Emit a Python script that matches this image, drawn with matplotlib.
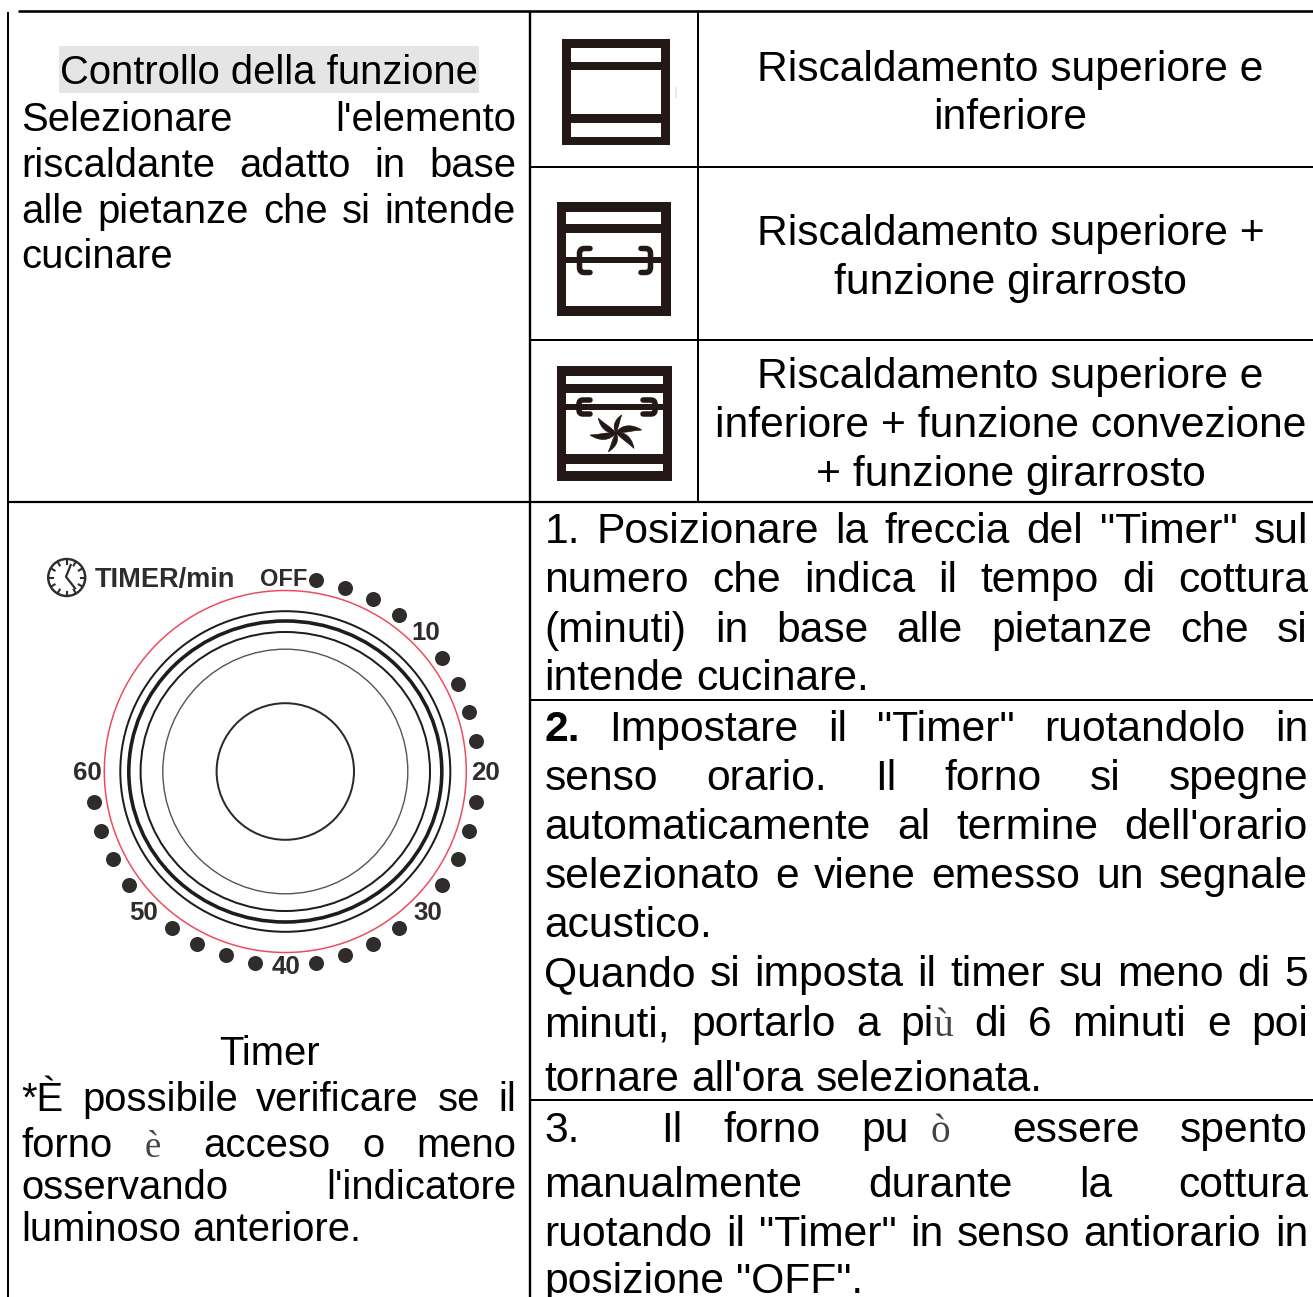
import numpy as np
import matplotlib
matplotlib.use("Agg")
import matplotlib.pyplot as plt
from matplotlib.font_manager import FontProperties
from matplotlib.patches import Rectangle, Ellipse, Circle, PathPatch
from matplotlib.path import Path

W, H = 1313, 1297
SANS = "Liberation Sans"
SERIF = "Liberation Serif"
LEFT_PT = 28.8
RIGHT_PT = 30.7
INK = "#000000"
ICON = "#231815"
DIAL = "#2f2c2b"

heading = "Controllo della funzione"
select_lines = ["Selezionare l'elemento", "riscaldante adatto in base",
                "alle pietanze che si intende", "cucinare"]
select_base = [131, 177, 223, 268]
timer_title = "Timer"
note_lines = ["*È possibile verificare se il",
              "forno è~ acceso o meno",
              "osservando l'indicatore",
              "luminoso anteriore."]
note_base = [1111, 1157, 1199, 1241]
note_just = [True, True, True, False]

mode_lines = [["Riscaldamento superiore e", "inferiore"],
              ["Riscaldamento superiore +", "funzione girarrosto"],
              ["Riscaldamento superiore e", "inferiore + funzione convezione",
               "+ funzione girarrosto"]]
mode_base = [[81, 129], [245, 294], [388, 437, 486]]

steps = [
    ("1. Posizionare la freccia del \"Timer\" sul", 543, True),
    ("numero che indica il tempo di cottura", 592, True),
    ("(minuti) in base alle pietanze che si", 642, True),
    ("intende cucinare.", 690, False),
    ("2. Impostare il \"Timer\" ruotandolo in", 741, True),
    ("senso orario. Il forno si spegne", 790, True),
    ("automaticamente al termine dell'orario", 839, True),
    ("selezionato e viene emesso un segnale", 888, True),
    ("acustico.", 937, False),
    ("Quando si imposta il timer su meno di 5", 986, True),
    ("minuti, portarlo a più di 6 minuti e poi", 1036, True),
    ("tornare all'ora selezionata.", 1091, False),
    ("3.  Il forno pu~~ò~~ essere spento", 1142, True),
    ("manualmente durante la cottura", 1197, True),
    ("ruotando il \"Timer\" in senso antiorario in", 1246, True),
    ("posizione \"OFF\".", 1293, False),
]

dial_minutes = [2, 4, 6, 8, 12, 14, 16, 18, 22, 24, 26, 28, 32, 34, 36, 38,
                42, 44, 46, 48, 52, 54, 56, 58]
dial_labels = ["10", "20", "30", "40", "50", "60"]
dial_label_x = [425.7, 485, 427.7, 285.7, 144, 87]
dial_label_y = [631, 771, 911, 965, 911, 771]

fig = plt.figure(figsize=(W / 100, H / 100), dpi=100, facecolor="white")
ax = fig.add_axes([0, 0, 1, 1])
ax.set_xlim(0, W)
ax.set_ylim(H, 0)
ax.axis("off")
rend = fig.canvas.get_renderer()


def fp(size, family=SANS, weight="normal"):
    return FontProperties(family=family, size=size, weight=weight)


def tw(s, prop):
    return rend.get_text_width_height_descent(s, prop, False)[0]


def put(x, y, s, prop, color=INK, ha="left"):
    ax.text(x, y, s, fontproperties=prop, color=color, ha=ha, va="baseline")


SERIF_CHARS = "ùèò"
PAD = "~"


def word_runs(word, size):
    runs, buf = [], ""
    for ch in word:
        if ch in SERIF_CHARS or ch == PAD:
            if buf:
                runs.append((buf, fp(size), INK))
                buf = ""
            if ch == PAD:
                runs.append((PAD, None, None))
            else:
                runs.append((ch, fp(size * 0.92, SERIF), "#444444"))
        else:
            buf += ch
    if buf:
        runs.append((buf, fp(size), INK))
    return runs


def run_width(run, size):
    return size * 100 / 72 * 0.25 if run[0] == PAD else tw(run[0], run[1])


def justified(line, x0, x1, y, size, just=True):
    words = line.split(" ")
    parsed = []
    for i, w in enumerate(words):
        if i == 0 and w == "2.":
            parsed.append([(w, fp(size, weight="bold"), INK)])
        else:
            parsed.append(word_runs(w, size))
    widths = [sum(run_width(r, size) for r in runs) for runs in parsed]
    space = tw("a a", fp(size)) - tw("aa", fp(size))
    gap = (x1 - x0 - sum(widths)) / (len(words) - 1) if just and len(words) > 1 else space
    x = x0
    for runs, wd in zip(parsed, widths):
        cx = x
        for r in runs:
            if r[0] != PAD:
                put(cx, y, r[0], r[1], r[2])
            cx += run_width(r, size)
        x += wd + gap


def hline(y, x0, x1, lw=2.0):
    ax.plot([x0, x1], [y, y], color="black", lw=lw * 0.72, solid_capstyle="butt")


def vline(x, y0, y1, lw=2.0):
    ax.plot([x, x], [y0, y1], color="black", lw=lw * 0.72, solid_capstyle="butt")


# table rules
hline(11, 18, W, 2.6)
vline(8, 12, H, 2)
vline(530, 11, H, 2.4)
vline(697.5, 11, 502, 2)
hline(167, 530, W, 2)
hline(340, 530, W, 2)
hline(502, 8, W, 2.2)
hline(700, 530, W, 2)
hline(1100, 530, W, 2)

# left column text
ax.add_patch(Rectangle((59, 46), 420, 47, fc="#e5e5e5", ec="none"))
put(269, 84, heading, fp(LEFT_PT), ha="center")
for i, (line, y) in enumerate(zip(select_lines, select_base)):
    justified(line, 21.5, 516, y, LEFT_PT, just=i < 3)
put(269, 1065, timer_title, fp(LEFT_PT), ha="center")
for line, y, j in zip(note_lines, note_base, note_just):
    justified(line, 21.5, 516, y, LEFT_PT, just=j)

# mode texts
for lines, ys in zip(mode_lines, mode_base):
    for line, y in zip(lines, ys):
        put(1010.5, y, line, fp(RIGHT_PT), ha="center")

# steps
for line, y, j in steps:
    justified(line, 544.5, 1308, y, RIGHT_PT, just=j)


# icons
def oven(x0, x1, y0, y1, ix0, ix1, whites):
    ax.add_patch(Rectangle((x0, y0), x1 - x0, y1 - y0, fc=ICON, ec="none"))
    for a, b in whites:
        ax.add_patch(Rectangle((ix0, a), ix1 - ix0, b - a, fc="white", ec="none"))


def spit(ix0, ix1, y, xl, xle, xr, xre, top, bot, lw=5.5, rad=5):
    l = lw * 0.72
    ax.plot([ix0 - 2, ix1 + 2], [y, y], color=ICON, lw=6 * 0.72, solid_capstyle="butt")
    for xv, xe in [(xl, xle), (xr, xre)]:
        s = np.sign(xe - xv)
        verts = [(xe, top), (xv + s * rad, top), (xv, top), (xv, top + rad),
                 (xv, bot - rad), (xv, bot), (xv + s * rad, bot), (xe, bot)]
        cd = [Path.MOVETO, Path.LINETO, Path.CURVE3, Path.CURVE3,
              Path.LINETO, Path.CURVE3, Path.CURVE3, Path.LINETO]
        ax.add_patch(PathPatch(Path(verts, cd), fc="none", ec=ICON, lw=l, capstyle="round"))


oven(562.3, 670, 39.3, 145, 571.3, 661, [(48.3, 61.7), (70, 114.3), (123.3, 136.7)])
ax.add_patch(Rectangle((675, 87), 2, 11, fc="#fbe3e3", ec="none"))
oven(556.7, 670.7, 202, 316, 566, 661.3, [(212, 224), (232.7, 306)])
spit(566, 661.3, 260.3, 579.5, 590, 650.5, 641, 248.5, 272.5)
oven(556.7, 672, 366, 481.3, 566, 662.7, [(376, 384), (392.7, 454.3), (464, 471.3)])
spit(566, 662.7, 407, 579, 590, 655, 643, 400, 414, rad=4)

# fan: six swept blades
fan_c = np.array([616.0, 432.7])
fan_tips = [(5.7, -17.7), (25.7, -2.7), (18, 15.7), (-7.7, 19), (-26, 2.3), (-17.7, -14.5)]
for t in fan_tips:
    t = np.array(t)
    n = np.array([t[1], -t[0]])
    verts = [np.zeros(2), 0.25 * t + 0.30 * n, 0.65 * t + 0.28 * n, t,
             0.70 * t + 0.02 * n, 0.35 * t - 0.05 * n, np.zeros(2)]
    pts = np.array(verts) + fan_c
    cd = [Path.MOVETO] + [Path.CURVE4] * 6
    ax.add_patch(PathPatch(Path(pts, cd), fc=ICON, ec=ICON, lw=0.5))

# dial
cx, cy = 285.3, 771.5
ax.add_patch(Circle((cx, cy), 181, fc="none", ec="#ee4a5a", lw=1.5 * 0.72))
for rx, ry, lw, col in [(165, 160.3, 2.0, "#1f1c1c"), (156.5, 150.5, 3.6, "#1f1c1c"),
                        (144.7, 139.5, 2.0, "#1f1c1c"), (122.5, 122.3, 1.4, "#555555"),
                        (68.7, 68.3, 2.0, "#2a2a2a")]:
    ax.add_patch(Ellipse((cx, cy), 2 * rx, 2 * ry, fc="none", ec=col, lw=lw * 0.72))
ang = np.deg2rad(np.array(dial_minutes) * 4.5)
ax.scatter(cx + 193.4 * np.sin(ang), cy - 193.4 * np.cos(ang), s=(15 * 0.72) ** 2,
           color=DIAL, linewidths=0, zorder=3)
for lab, x, y in zip(dial_labels, dial_label_x, dial_label_y):
    ax.text(x, y, lab, fontproperties=fp(18.6, weight="bold"),
            color=DIAL, ha="center", va="center_baseline")
ax.text(284, 577, "OFF", fontproperties=fp(17, weight="bold"), color=DIAL, ha="center", va="center_baseline")
ax.text(95, 576.5, "TIMER/min", fontproperties=fp(19.5, weight="bold"), color=DIAL, ha="left", va="center_baseline")

# clock glyph
ckx, cky = 66.7, 577.5
ax.add_patch(Circle((ckx, cky), 18.5, fc="none", ec=DIAL, lw=2.4 * 0.72))
for k in range(12):
    a = np.deg2rad(30 * k)
    ax.plot([ckx + 14 * np.sin(a), ckx + 18 * np.sin(a)], [cky - 14 * np.cos(a), cky - 18 * np.cos(a)],
            color=DIAL, lw=1.5)
ax.plot([70.7, 66, 75], [565, 576.7, 588.3], color=DIAL, lw=1.6)

fig.savefig("out.png", dpi=100, facecolor="white")
